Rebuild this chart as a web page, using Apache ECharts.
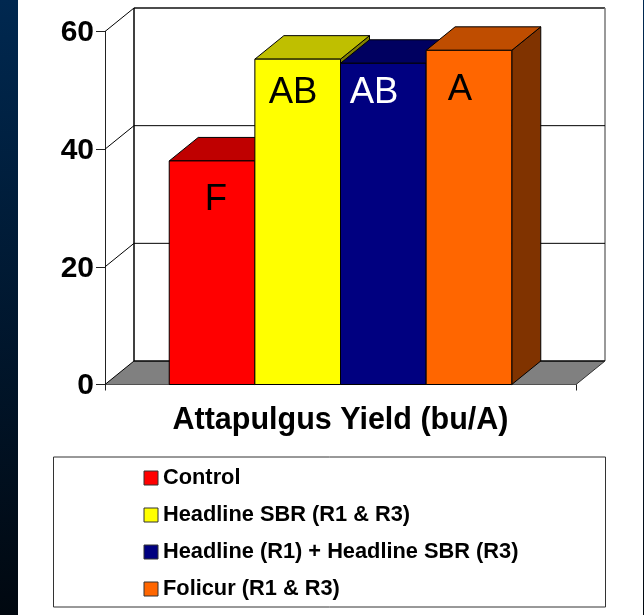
<!DOCTYPE html>
<html>
<head>
<meta charset="utf-8">
<style>html,body{margin:0;padding:0;background:#fff}#graph{width:644px;height:615px}</style>
<script src="https://cdn.jsdelivr.net/npm/echarts@6/dist/echarts.min.js"></script>
</head>
<body>
<div id="graph"></div>
<script>
"use strict"

const category = "Attapulgus Yield (bu/A)";
const treatments = ["Control", "Headline SBR (R1 & R3)", "Headline (R1) + Headline SBR (R3)", "Folicur (R1 & R3)"];
const yields = [38.0, 55.3, 54.6, 56.8];
const letters = ["F", "AB", "AB", "A"];
const yTicks = [0, 20, 40, 60];

const frontColors = ["#ff0000", "#ffff00", "#000080", "#ff6600"];
const topColors = ["#bf0000", "#bfbf00", "#000060", "#bf4d00"];
const sideColors = ["#800000", "#808000", "#000040", "#803300"];

// the 3D look: how far the back wall sits from the front plane
const depthX = 29, depthY = -23.5;
const gapWidth = 1.5;
const fontName = "'Liberation Sans', Arial, sans-serif";

const myChart = echarts.init(document.getElementById("graph"), null, { renderer: "canvas" });

function renderWall(params, api)
{
    const band = api.size([1, 0])[0];
    const center = api.coord([0, 0]);
    const left = center[0] - band / 2, right = center[0] + band / 2;
    const floorY = center[1];
    const topY = api.coord([0, yTicks[yTicks.length - 1]])[1];
    const line = (x1, y1, x2, y2, stroke, width) => ({
        type: "line",
        shape: { x1, y1, x2, y2 },
        style: { stroke, lineWidth: width }
    });
    const children = [
        {
            type: "polygon",
            shape: { points: [[left, floorY], [left + depthX, floorY + depthY], [right + depthX, floorY + depthY], [right, floorY]] },
            style: { fill: "#808080" }
        },
        line(left + depthX, topY + depthY, right + depthX, topY + depthY, "#111", 1.5),
        line(left + depthX, topY + depthY, left + depthX, floorY + depthY, "#000", 1.5),
        line(right + depthX, topY + depthY, right + depthX, floorY + depthY, "#777", 1.5),
        line(left + depthX, floorY + depthY, right + depthX, floorY + depthY, "#000", 1.5),
        line(right, floorY, right + depthX, floorY + depthY, "#333", 1),
    ];
    yTicks.forEach(t =>
    {
        const y = api.coord([0, t])[1];
        children.push(line(left, y, left + depthX, y + depthY, "#000", 1));
        if (t > 0 && t < yTicks[yTicks.length - 1])
            children.push(line(left + depthX, y + depthY, right + depthX, y + depthY, "#000", 1));
    });
    return { type: "group", children };
}

function renderBar(params, api)
{
    const idx = params.seriesIndex - 1;
    const band = api.size([1, 0])[0];
    const barW = band / (treatments.length + gapWidth);
    const base = api.coord([0, 0]);
    const head = api.coord([0, api.value(1)]);
    const x0 = base[0] + (idx - treatments.length / 2) * barW, x1 = x0 + barW;
    const stroke = { stroke: "#000", lineWidth: 1, lineJoin: "round" };
    return {
        type: "group",
        children: [
            {
                type: "polygon",
                shape: { points: [[x1, head[1]], [x1 + depthX, head[1] + depthY], [x1 + depthX, base[1] + depthY], [x1, base[1]]] },
                style: Object.assign({ fill: sideColors[idx] }, stroke)
            },
            {
                type: "polygon",
                shape: { points: [[x0, head[1]], [x0 + depthX, head[1] + depthY], [x1 + depthX, head[1] + depthY], [x1, head[1]]] },
                style: Object.assign({ fill: topColors[idx] }, stroke)
            },
            {
                type: "rect",
                shape: { x: x0, y: head[1], width: barW, height: base[1] - head[1] },
                style: Object.assign({ fill: frontColors[idx] }, stroke)
            }
        ]
    };
}

const wallSeries = {
    type: "custom",
    name: "wall",
    silent: true,
    z: 1,
    renderItem: renderWall,
    data: [[category, 0]]
};

const barSeries = treatments.map((name, i) => ({
    type: "custom",
    name,
    z: 2 + i,
    itemStyle: { color: frontColors[i] },
    renderItem: renderBar,
    encode: { x: 0, y: 1 },
    data: [[category, yields[i]]]
}));

const letterX = [216, 293, 374, 460];
const letterY = [199.5, 93, 93, 89.5];
const letterColors = ["#000", "#000", "#fff", "#000"];

const letterText = letters.map((t, i) => ({
    type: "text",
    z: 100,
    x: letterX[i],
    y: letterY[i],
    style: { text: t, fill: letterColors[i], font: `36.5px ${fontName}`, textAlign: "center", textVerticalAlign: "middle" }
}));

const stripFill = new echarts.graphic.LinearGradient(0, 0, 0, 1, [{ offset: 0, color: "#002850" }, { offset: 1, color: "#010810" }]);

const option = {
    animation: false,
    backgroundColor: "#fff",
    grid: { left: 105, width: 471, top: 31.5, height: 353 },
    xAxis: {
        type: "category",
        data: [category],
        name: category,
        nameLocation: "middle",
        nameGap: 21,
        nameTextStyle: { fontFamily: fontName, fontWeight: "bold", fontSize: 30.5, color: "#000" },
        axisLabel: { show: false },
        axisLine: { lineStyle: { color: "#222", width: 1 } },
        axisTick: { show: true, length: 6, alignWithLabel: false, lineStyle: { color: "#222" } },
        splitLine: { show: false }
    },
    yAxis: {
        type: "value",
        min: 0,
        max: 60,
        interval: 20,
        axisLine: { show: true, onZero: false, lineStyle: { color: "#222", width: 1 } },
        axisTick: { show: true, length: 9, lineStyle: { color: "#222" } },
        // a short line box with top alignment puts the digits just under the tick, as in the picture
        axisLabel: { fontFamily: fontName, fontWeight: "bold", fontSize: 30, color: "#000", margin: 11, verticalAlign: "top", lineHeight: 3 },
        splitLine: { show: false }
    },
    legend: {
        orient: "vertical",
        left: 138.5,
        top: 461.5,
        itemWidth: 14,
        itemHeight: 14,
        itemGap: 14,
        data: treatments,
        selectedMode: false,
        icon: "rect",
        textStyle: { fontFamily: fontName, fontWeight: "bold", fontSize: 21.8, color: "#000", lineHeight: 23 },
        itemStyle: { borderColor: "#333", borderWidth: 1 }
    },
    graphic: [
        {
            type: "rect",
            z: -10,
            shape: { x: 0, y: 0, width: 18, height: 615 },
            style: { fill: stripFill }
        },
        {
            type: "rect",
            z: -10,
            shape: { x: 643, y: 0, width: 1, height: 615 },
            style: { fill: stripFill }
        },
        {
            type: "rect",
            z: -10,
            shape: { x: 53.5, y: 457, width: 552, height: 150 },
            style: { fill: "#fff", stroke: "#333", lineWidth: 1 }
        },
        ...letterText
    ],
    series: [wallSeries, ...barSeries]
};
myChart.setOption(option);
</script>
</body>
</html>
